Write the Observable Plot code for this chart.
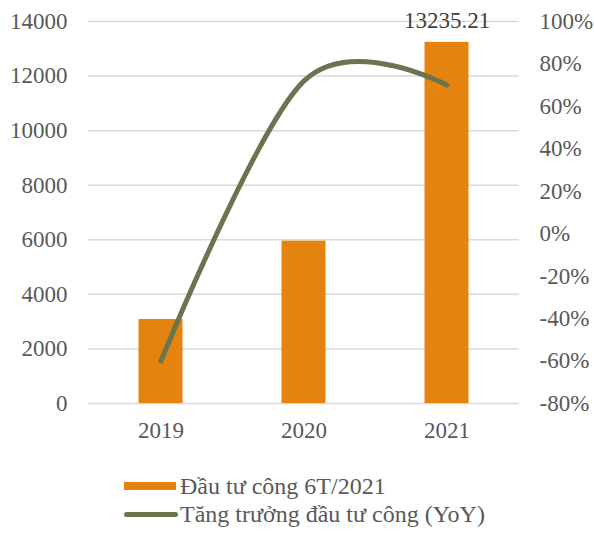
<!DOCTYPE html>
<html>
<head>
<meta charset="utf-8">
<script src="https://cdn.jsdelivr.net/npm/d3@7"></script>
<script src="https://cdn.jsdelivr.net/npm/@observablehq/plot@0.6"></script>
<style>
  body { margin: 0; background: white; }
  #wrap { position: relative; width: 594px; height: 540px; font-family: "Liberation Serif", "Times New Roman", serif; color: #595959; }
  #chart g[aria-label$="tick label"], #chart g[aria-label$="tick label"] text { font-size: 23px !important; font-family: "Liberation Serif", serif !important; }
  .leg { position: absolute; left: 124px; height: 28px; line-height: 28px; display: flex; align-items: center; font-size: 24px; white-space: nowrap; }
  .sw-bar { width: 52px; height: 8px; background: #E5830F; margin-right: 4px; }
  .sw-line { width: 54px; height: 5px; background: #68754F; border-radius: 3px; margin-right: 2px; }
</style>
</head>
<body>
<div id="wrap">
  <div id="chart"></div>
  <div class="leg" style="top:472px"><div class="sw-bar"></div><span>Đầu tư công 6T/2021</span></div>
  <div class="leg" style="top:500px"><div class="sw-line"></div><span>Tăng trưởng đầu tư công (YoY)</span></div>
</div>
<script>
const years = ["2019", "2020", "2021"];
const investment = [3080, 5950, 13235.21];
const growth = [-60, 72, 70];
const leftTicks = [0, 2000, 4000, 6000, 8000, 10000, 12000, 14000];
const rightTicks = [-80, -60, -40, -20, 0, 20, 40, 60, 80, 100];

const data = years.map((y, i) => ({year: y, value: investment[i], growth: growth[i]}));
const toY = p => (p + 80) / 180 * 14000;
const fromY = v => Math.round(v / 14000 * 180 - 80);

const chart = Plot.plot({
  width: 594,
  height: 455,
  marginLeft: 88,
  marginRight: 75,
  marginTop: 21,
  marginBottom: 52,
  x: {domain: years, padding: 0, label: null},
  y: {domain: [0, 14000], label: null},
  style: {fontFamily: "Liberation Serif", fontSize: "23px", color: "#595959", background: "white"},
  marks: [
    Plot.gridY(leftTicks, {stroke: "#d9d9d9", strokeOpacity: 1, strokeWidth: 1.5}),
    Plot.barY(data, {x: "year", y: "value", fill: "#E5830F", insetLeft: 49.5, insetRight: 49.5}),
    Plot.line(data, {x: "year", y: d => toY(d.growth), stroke: "#68754F", strokeWidth: 5, curve: "cardinal", strokeLinecap: "round"}),
    Plot.text(data.filter(d => d.year === "2021"), {x: "year", y: "value", text: d => d.value.toFixed(2), dy: -14, lineAnchor: "bottom", fontSize: 23, fill: "#404040"}),
    Plot.axisY(leftTicks, {anchor: "left", tickSize: 0, tickPadding: 21, tickFormat: d => String(d), label: null}),
    Plot.axisY(rightTicks.map(toY), {anchor: "right", tickSize: 0, tickPadding: 20, tickFormat: d => fromY(d) + "%", label: null}),
    Plot.axisX({tickSize: 0, tickPadding: 18, label: null})
  ]
});
document.getElementById("chart").appendChild(chart);
</script>
</body>
</html>
